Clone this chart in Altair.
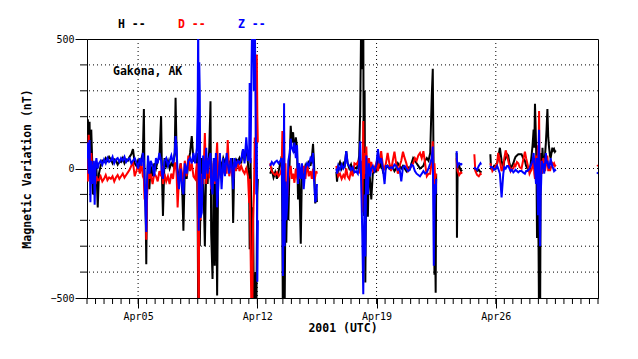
import altair as alt
import pandas as pd

COMPONENTS = ["H", "D", "Z"]
COLORS = ["#000000", "#ff0000", "#0000ff"]
LEGEND_TEXT = ["H --", "D --", "Z --"]
STATION = "Gakona, AK"
Y_TITLE = "Magnetic Variation (nT)"
X_TITLE = "2001 (UTC)"
MAJOR_DAYS = [5, 12, 19, 26]          # April dates with labels
Y_LABELS = [-500, 0, 500]
Y_GRID = [-400, -300, -200, -100, 0, 100, 200, 300, 400]
Y_MINOR = [-400, -300, -200, -100, 100, 200, 300, 400]
N_DAYS = 30                            # Apr 2 -> May 2
FONT = "DejaVu Sans Mono"

# rows: (days since 2001-04-02 00:00 UTC, H, D, Z) in nT
SEG_A1 = [
    (0.00, 60, -20, 40), (0.05, 190, -50, 100), (0.10, 100, 130, -20), (0.15, 180, 30, 110),
    (0.20, -30, -40, -130), (0.25, 150, 60, 30), (0.30, 40, -10, -60), (0.35, -100, -30, -20),
    (0.40, 20, -40, 30), (0.45, -60, -50, -140), (0.50, -30, -60, 10), (0.55, 10, -30, 40),
    (0.63, -150, -45, 0), (0.70, -20, -45, 20), (0.80, 10, -30, 30), (0.90, 30, -50, 15),
    (1.00, 25, -40, 35), (1.10, 40, -25, 20), (1.20, 30, -45, 40), (1.30, 45, -35, 25),
    (1.40, 35, -40, 30), (1.50, 20, -30, 45), (1.60, 35, -50, 20), (1.70, 30, -35, 35),
    (1.80, 15, -25, 40), (1.90, 30, -40, 25), (2.00, 25, -30, 40), (2.10, 40, -20, 30),
    (2.20, 20, -35, 45), (2.30, 35, -25, 25), (2.40, 30, -15, 35), (2.50, 45, -5, 40),
    (2.60, 55, 10, 20), (2.70, 75, 25, 30), (2.80, 20, -30, 40), (2.90, 10, -10, 25),
    (3.00, 30, 15, 0), (3.10, 5, -20, 40), (3.20, 40, 20, 10), (3.28, 60, -30, 60),
    (3.34, 230, -40, 30), (3.38, -60, -120, -40), (3.44, -150, -60, -180), (3.48, -370, -275, -245),
    (3.52, -100, -130, -60), (3.58, 20, -10, 50), (3.66, -80, -40, -20), (3.74, 10, -20, 30),
    (3.85, -30, -60, 10), (3.95, 20, -20, -30), (4.05, 0, -30, 40), (4.15, 30, -50, 20),
    (4.25, 40, -10, 60), (4.35, 203, -30, 30), (4.40, -20, 10, -20), (4.46, -183, -60, -40),
    (4.55, 40, -20, 30), (4.65, 10, -50, 40), (4.75, 30, -30, 10), (4.85, 0, -60, 30),
    (4.95, 20, -20, 50), (5.05, 10, -40, 20), (5.15, 60, 20, 60), (5.20, 273, 20, 125),
    (5.26, 60, -20, 80), (5.32, -60, -150, -20), (5.40, -20, -40, -80), (5.50, 20, 20, 0),
    (5.60, -100, -30, -80), (5.66, -240, -50, -100), (5.74, 0, 30, 20), (5.85, -40, -30, -20),
    (5.95, 20, 50, 30), (6.05, 60, -10, 40), (6.15, 125, 20, 20), (6.25, 30, -30, 60),
    (6.35, 30, -40, 20), (6.45, 60, 20, 80), (6.50, -200, -100, 250), (6.53, -600, -390, 600),
    (6.56, -600, -600, -240), (6.59, 120, -80, 410), (6.62, -300, 30, 300), (6.66, -150, -200, -190),
    (6.74, 40, -20, -170), (6.82, -20, -60, 50), (6.92, -300, 137, -40), (7.00, 20, -60, 80),
    (7.08, -60, 40, -20), (7.18, 80, -30, 40), (7.25, 260, -20, 60), (7.29, -250, -80, -60),
    (7.37, -427, -40, -100), (7.44, 20, 30, 40), (7.50, -375, -60, -50), (7.57, 30, 10, 60),
    (7.64, -490, 100, -150), (7.70, -20, -40, -80), (7.80, 30, 0, 60), (7.90, 10, -30, -80),
    (8.00, 40, -10, 40), (8.10, 20, 20, -30), (8.20, 45, -20, 60), (8.26, 10, 110, 20),
    (8.35, 30, -30, -20), (8.45, 0, 10, 40), (8.52, 40, -20, 0), (8.58, -210, -40, -80),
    (8.65, 20, 20, 40), (8.75, 35, -10, 10), (8.85, 25, 30, 30), (8.95, 40, -10, 20),
    (9.05, 20, 10, 35), (9.16, 75, -10, 75), (9.25, 30, -20, 20), (9.35, 87, 0, 120),
    (9.45, 20, -30, 30), (9.52, -60, -133, 40), (9.55, -312, -40, 330), (9.60, 40, -300, 20),
    (9.66, -200, -600, 395), (9.70, -600, -600, 600), (9.75, -150, -200, 600), (9.80, -600, -100, 300),
    (9.85, -600, 120, 600), (9.90, -400, 40, 200), (9.94, -600, 385, -100), (9.97, -300, 440, 100),
    (10.00, -100, 205, -437), (10.03, -40, 100, -200),
]
SEG_A2 = [
    (10.75, -20, 20, 10), (10.85, -5, -10, 25), (10.95, -35, -20, 15), (11.05, -15, -25, 25),
    (11.15, -40, -15, 30), (11.25, -10, -30, 20), (11.35, 20, -20, 30), (11.43, 48, 0, 40),
    (11.47, -200, 145, -100), (11.50, -600, 60, -415), (11.54, -600, -40, -200), (11.57, -300, 140, 252),
    (11.60, -600, -60, -300), (11.65, -100, 20, -50), (11.70, -287, -133, -200), (11.76, -50, -105, -130),
    (11.82, -200, -40, 30), (11.90, 40, -10, 60), (11.96, 165, 10, 115), (12.02, 100, -40, 80),
    (12.10, 140, -20, 67), (12.18, 60, -55, 100), (12.26, 120, 0, 40), (12.33, 80, -30, 90),
    (12.39, -120, -20, -60), (12.45, 20, -40, 20), (12.55, -290, -10, -40), (12.62, 0, -30, 20),
    (12.72, -20, 10, -80), (12.82, 10, -40, 0), (12.92, -10, 20, 20), (13.02, 30, -30, 10),
    (13.12, 10, -10, 40), (13.20, 40, -40, 30), (13.27, 95, 0, 60), (13.33, 20, -50, -40),
    (13.40, -135, -30, -130), (13.46, -80, -10, -120), (13.50, -130, -20, -60),
]
SEG_B = [
    (14.64, -13, 10, 0), (14.68, -51, -10, -20), (14.75, 10, -30, 10), (14.85, 25, -20, -5),
    (14.95, 0, -40, 15), (15.05, 20, -25, 0), (15.13, 10, -35, 10), (15.22, 67, 0, 67),
    (15.30, 20, -30, 20), (15.40, 0, -40, 10), (15.50, 15, -10, -5), (15.60, -10, -30, 5),
    (15.70, 5, 20, -15), (15.80, 0, 15, -10), (15.90, 10, 25, -20), (15.98, 50, 0, 20),
    (16.04, 222, -20, 105), (16.10, 600, 30, -60), (16.16, 383, -170, -248), (16.22, 600, 183, -485),
    (16.25, -183, -40, -300), (16.30, 300, 60, -100), (16.34, -440, -20, -340), (16.40, 30, 85, 50),
    (16.45, -80, -20, -60), (16.49, -186, 10, -100), (16.55, 20, 40, 20), (16.62, -50, 0, -30),
    (16.69, -119, 25, 0), (16.78, -20, -10, 10), (16.88, 10, 0, -10), (16.98, -15, 20, 10),
    (17.08, 50, -10, 75), (17.17, 0, 30, 20), (17.27, 20, 67, 40), (17.37, -10, 10, 0),
    (17.47, 5, 0, -60), (17.55, 0, 20, 10), (17.65, 10, 60, 10), (17.75, 0, 20, 0),
    (17.85, 10, -10, 5), (17.95, 5, 30, 0), (18.05, -10, 65, 15), (18.15, 0, 20, 10),
    (18.25, 20, -20, -5), (18.35, 10, 10, 0), (18.45, 0, 30, -50), (18.55, 10, 65, 5),
    (18.65, 0, 40, 10), (18.75, -10, 20, 0), (18.85, 5, -10, -10), (18.95, 0, 0, -5),
    (19.05, 20, 10, 15), (19.15, 40, 20, 10), (19.25, 30, 40, -10), (19.35, 20, 30, -20),
    (19.45, 10, 50, -25), (19.55, 0, 60, -30), (19.65, 5, 40, -20), (19.75, 10, 67, -10),
    (19.85, 30, 20, -20), (19.95, 40, -30, -15), (20.05, 30, -20, 0), (20.15, 60, -20, 20),
    (20.24, 280, 30, 40), (20.30, 385, 105, 85), (20.36, -100, -80, -375), (20.40, -410, 20, -150),
    (20.44, -310, -40, -60), (20.47, -480, -30, -100), (20.50, -20, -20, -40),
]
SEG_C = [
    (21.70, 60, 40, 67), (21.72, -267, 20, 30), (21.76, 0, -10, 10), (21.85, 10, -25, 20),
    (21.95, -10, -15, 15), (22.02, -5, -20, 20),
]
SEG_D = [
    (22.74, 0, 55, 5), (22.80, -5, -10, 0), (22.90, -10, -25, -5), (23.00, -5, -30, 10),
    (23.10, -15, -20, 20), (23.14, -10, -25, 15),
]
SEG_E = [
    (23.68, 55, 20, 10), (23.72, 0, 10, 5), (23.80, 0, -10, 5), (23.90, 10, 0, -5),
    (23.99, 0, 10, 0), (24.08, 20, 20, 10), (24.14, 40, 60, 0), (24.24, 80, 30, -20),
    (24.34, 30, -10, -112), (24.44, 0, 10, -20), (24.50, 30, 40, 5), (24.58, 40, 70, 0),
    (24.66, 55, 50, 10), (24.73, 50, 30, 10), (24.80, 20, 10, 0), (24.87, 0, -10, -10),
    (24.95, 10, 0, -5), (25.03, 20, 0, -15), (25.10, 35, 15, -10), (25.16, 45, 10, -5),
    (25.24, 50, 25, -10), (25.32, 55, 20, -15), (25.40, 55, 5, -10), (25.51, 55, 0, -10),
    (25.60, 40, 30, -15), (25.71, 30, 65, -20), (25.78, 10, 40, -10), (25.85, 0, 20, -10),
    (25.92, -5, 0, -5), (25.98, -10, -20, 0), (26.05, 20, -10, 10), (26.10, 50, -5, 20),
    (26.16, 90, 10, 30), (26.22, 150, 40, 60), (26.26, 80, -20, 20), (26.30, 250, -40, 0),
    (26.33, 180, 10, -30), (26.36, 100, 50, -60), (26.39, 0, -60, 40), (26.42, -268, -20, 20),
    (26.45, 50, 40, -80), (26.48, -150, 90, -180), (26.51, -300, -20, 60), (26.54, -600, 222, 150),
    (26.57, 20, 0, -200), (26.60, -600, -40, -300), (26.63, -100, 20, -100), (26.66, 60, 30, -60),
    (26.70, -20, -20, 30), (26.74, 80, 0, 0), (26.79, 20, 40, 20), (26.84, 30, 30, -20),
    (26.89, 50, -10, 10), (26.94, 100, 10, 60), (26.98, 150, 30, 20), (27.03, 230, 50, 30),
    (27.08, 120, -10, 10), (27.13, 80, 10, 0), (27.18, 50, -10, 20), (27.22, 40, 0, 40),
    (27.27, 60, 10, 20), (27.32, 80, 20, 10), (27.37, 70, 15, 0), (27.42, 75, 20, -10),
    (27.47, 65, 10, -5), (27.52, 70, 15, -10),
]
SEG_F = [
    (29.95, None, 13, -20), (30.00, None, 10, -15),
]
SEGMENTS = [SEG_A1, SEG_A2, SEG_B, SEG_C, SEG_D, SEG_E, SEG_F]

BASE = pd.Timestamp("2001-04-02 00:00:00")


def iso(days):
    return (BASE + pd.Timedelta(days=days)).strftime("%Y-%m-%dT%H:%M:%SZ")


rows = []
for i, seg in enumerate(SEGMENTS):
    for t, h, d, z in seg:
        for comp, val in zip(COMPONENTS, (h, d, z)):
            if val is None:
                continue
            rows.append({"time": iso(t), "comp": comp, "seg": f"{comp}{i}", "value": val})
df = pd.DataFrame(rows)

minor_df = pd.DataFrame({"time": [iso(k * 0.5) for k in range(2 * N_DAYS + 1)]})
major_df = pd.DataFrame({"time": [iso(d - 2) for d in MAJOR_DAYS]})
ygrid_df = pd.DataFrame({"value": Y_GRID})
yminor_df = pd.DataFrame({"value": Y_MINOR})

W, H_ = 511, 259

x_scale = alt.Scale(type="utc", domain=[iso(0), iso(N_DAYS)])
y_scale = alt.Scale(domain=[-500, 500], nice=False)

x_axis = alt.Axis(
    values=[alt.DateTime(year=2001, month=4, date=d, utc=True) for d in MAJOR_DAYS],
    labelExpr="utcFormat(datum.value, '%b%d')", tickSize=10, tickColor="black", domainColor="black",
    grid=False, labelFont=FONT, labelFontSize=10, labelColor="black", labelPadding=3,
    title=X_TITLE, titleFont=FONT, titleFontSize=11.5, titleFontWeight="bold", titleColor="black",
    titleX=W / 2, titleY=30, titleBaseline="middle", titleAlign="center",
)
y_axis = alt.Axis(
    values=Y_LABELS, tickSize=12, tickColor="black", domainColor="black", grid=False,
    labelFont=FONT, labelFontSize=10, labelColor="black", labelPadding=1,
    title=Y_TITLE, titleFont=FONT, titleFontSize=11.5, titleFontWeight="bold", titleColor="black",
    titleX=-60, titleY=H_ / 2, titleAngle=270, titleBaseline="middle", titleAlign="center",
)

X = alt.X("time:T", scale=x_scale, axis=x_axis)
Y = alt.Y("value:Q", scale=y_scale, axis=y_axis)

layers = []
# dotted grid
layers.append(alt.Chart(ygrid_df).mark_rule(color="black", strokeDash=[1, 3], strokeWidth=1).encode(y=Y))
layers.append(alt.Chart(major_df).mark_rule(color="black", strokeDash=[1, 3], strokeWidth=1).encode(x=X))
# minor ticks
layers.append(alt.Chart(minor_df).mark_rule(color="black", strokeWidth=1).encode(
    x=X, y=alt.value(H_), y2=alt.value(H_ + 6)))
layers.append(alt.Chart(yminor_df).mark_rule(color="black", strokeWidth=1).encode(
    y=Y, x=alt.value(-7), x2=alt.value(0)))

for comp, col in zip(COMPONENTS, COLORS):
    layers.append(
        alt.Chart(df[df["comp"] == comp]).mark_line(color=col, strokeWidth=2, clip=True).encode(
            x=X, y=Y, detail="seg:N")
    )

layers.append(alt.Chart(pd.DataFrame({"s": [STATION]})).mark_text(
    font=FONT, fontSize=11.5, fontWeight="bold", color="black", align="left", baseline="middle"
).encode(text="s:N", x=alt.value(26), y=alt.value(33)))

for lab, col, xp in zip(LEGEND_TEXT, COLORS, [31, 91, 151]):
    layers.append(alt.Chart(pd.DataFrame({"s": [lab]})).mark_text(
        font=FONT, fontSize=11.5, fontWeight="bold", color=col, align="left", baseline="middle"
    ).encode(text="s:N", x=alt.value(xp), y=alt.value(-14)))

chart = alt.layer(*layers).properties(
    width=W, height=H_,
    background="white",
    autosize=alt.AutoSizeParams(type="none"),
    padding={"left": 79, "top": 31, "right": 32, "bottom": 53},
).configure_view(stroke="black", strokeWidth=1)

chart.save("out.html", embed_options={"renderer": "svg", "actions": False})
